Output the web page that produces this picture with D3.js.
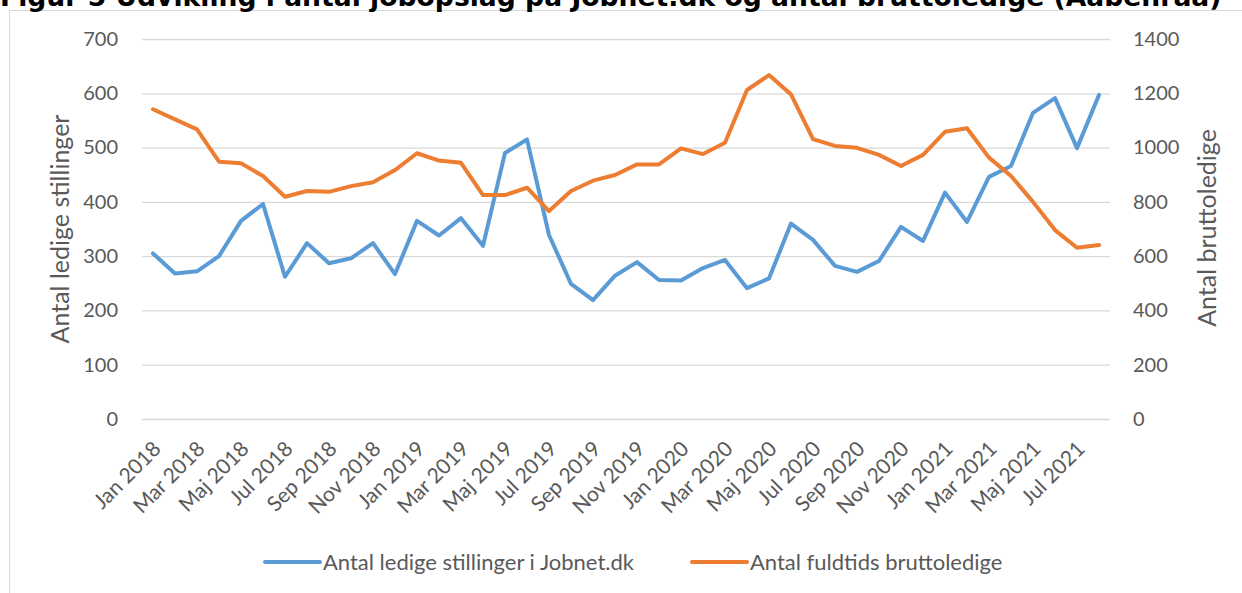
<!DOCTYPE html>
<html><head><meta charset="utf-8">
<script src="https://cdn.jsdelivr.net/npm/d3@7"></script>
<style>body{margin:0;background:#fff;} svg{display:block;}</style>
</head><body>
<svg id="c" width="1242" height="593"></svg>
<script>
const title = "Figur 5 Udvikling i antal jobopslag på Jobnet.dk og antal bruttoledige (Aabenraa)";
const monthNames = ["Jan","Feb","Mar","Apr","Maj","Jun","Jul","Aug","Sep","Okt","Nov","Dec"];
const years = [2018, 2019, 2020, 2021];
const nMonths = 44;
const categories = [];
for (let i = 0; i < nMonths; i++) categories.push(monthNames[i % 12] + " " + years[Math.floor(i / 12)]);
const jobnet = [305,268,272,300,365,396,262,324,287,296,324,267,365,338,370,319,490,515,339,249,219,264,289,256,255,278,293,241,259,360,330,282,271,291,354,328,417,363,446,466,564,591,499,597];
const ledige = [1141,1104,1067,948,942,895,819,840,837,858,872,917,979,952,944,825,825,852,766,840,878,899,938,938,997,976,1018,1212,1267,1196,1031,1006,999,973,932,973,1058,1071,963,895,800,696,631,641];
const leftTicks = [0,100,200,300,400,500,600,700];
const rightTicks = [0,200,400,600,800,1000,1200,1400];
const seriesNames = ["Antal ledige stillinger i Jobnet.dk", "Antal fuldtids bruttoledige"];
const colors = ["#5B9BD5", "#ED7D31"];

const svg = d3.select("#c");
const font = "Lato, 'Open Sans', sans-serif";
const gray = "#595959";
const x0 = 142, x1 = 1110, yTop = 39, yBot = 419;

// frame
svg.append("rect").attr("x", 9.5).attr("y", 10.5).attr("width", 1300).attr("height", 700)
  .attr("fill", "none").attr("stroke", "#D9D9D9").attr("stroke-width", 1);

// title
const t = svg.append("text").attr("x", 0).attr("y", 6).text(title)
  .attr("font-family", "'DejaVu Sans', Verdana, sans-serif").attr("font-weight", "bold")
  .attr("font-size", 20).attr("fill", "#000");
const tw = t.node().getComputedTextLength();
t.attr("font-size", 20 * 1222 / tw);

const x = d3.scaleBand().domain(categories).range([x0, x1]);
const yL = d3.scaleLinear().domain([0, 700]).range([yBot, yTop]);
const yR = d3.scaleLinear().domain([0, 1400]).range([yBot, yTop]);

// gridlines
svg.append("g").selectAll("line").data(leftTicks).join("line")
  .attr("x1", x0).attr("x2", x1).attr("y1", d => yL(d) + 0.5).attr("y2", d => yL(d) + 0.5)
  .attr("stroke", "#D9D9D9").attr("stroke-width", 1.3);

// left axis
const gl = svg.append("g").attr("transform", `translate(${x0 - 24},0)`)
  .call(d3.axisLeft(yL).tickValues(leftTicks).tickSize(0).tickPadding(0).tickFormat(d3.format("d")));
gl.select(".domain").remove();
gl.selectAll("text").attr("font-family", font).attr("font-size", 20).attr("fill", gray);

// right axis
const gr = svg.append("g").attr("transform", `translate(${x1 + 23},0)`)
  .call(d3.axisRight(yR).tickValues(rightTicks).tickSize(0).tickPadding(0).tickFormat(d3.format("d")));
gr.select(".domain").remove();
gr.selectAll("text").attr("font-family", font).attr("font-size", 20).attr("fill", gray);

// x axis labels (every 2nd)
const gx = svg.append("g");
gx.selectAll("text").data(categories.filter((d, i) => i % 2 === 0)).join("text")
  .attr("transform", d => `translate(${x(d) + x.bandwidth() / 2 + 4},${yBot + 26}) rotate(-45)`)
  .attr("text-anchor", "end").attr("dy", "0.35em")
  .attr("font-family", font).attr("font-size", 21).attr("fill", gray)
  .text(d => d);

// axis titles
svg.append("text").attr("transform", `translate(69,229) rotate(-90)`).attr("text-anchor", "middle")
  .attr("font-family", font).attr("font-size", 25).attr("fill", gray).text("Antal ledige stillinger");
svg.append("text").attr("transform", `translate(1216,228) rotate(-90)`).attr("text-anchor", "middle")
  .attr("font-family", font).attr("font-size", 25).attr("fill", gray).text("Antal bruttoledige");

// lines
const lineL = d3.line().x((d, i) => x(categories[i]) + x.bandwidth() / 2).y(d => yL(d));
const lineR = d3.line().x((d, i) => x(categories[i]) + x.bandwidth() / 2).y(d => yR(d));
svg.append("path").datum(jobnet).attr("d", lineL).attr("fill", "none").attr("stroke", colors[0])
  .attr("stroke-width", 4).attr("stroke-linejoin", "round").attr("stroke-linecap", "round");
svg.append("path").datum(ledige).attr("d", lineR).attr("fill", "none").attr("stroke", colors[1])
  .attr("stroke-width", 4).attr("stroke-linejoin", "round").attr("stroke-linecap", "round");

// legend
const legX = [265, 692];
const lg = svg.append("g");
seriesNames.forEach((name, i) => {
  lg.append("line").attr("x1", legX[i]).attr("x2", legX[i] + 55).attr("y1", 562).attr("y2", 562)
    .attr("stroke", colors[i]).attr("stroke-width", 4).attr("stroke-linecap", "round");
  lg.append("text").attr("x", legX[i] + 58).attr("y", 562).attr("dy", "0.35em")
    .attr("font-family", font).attr("font-size", 22).attr("fill", gray).text(name);
});
</script>
</body></html>
